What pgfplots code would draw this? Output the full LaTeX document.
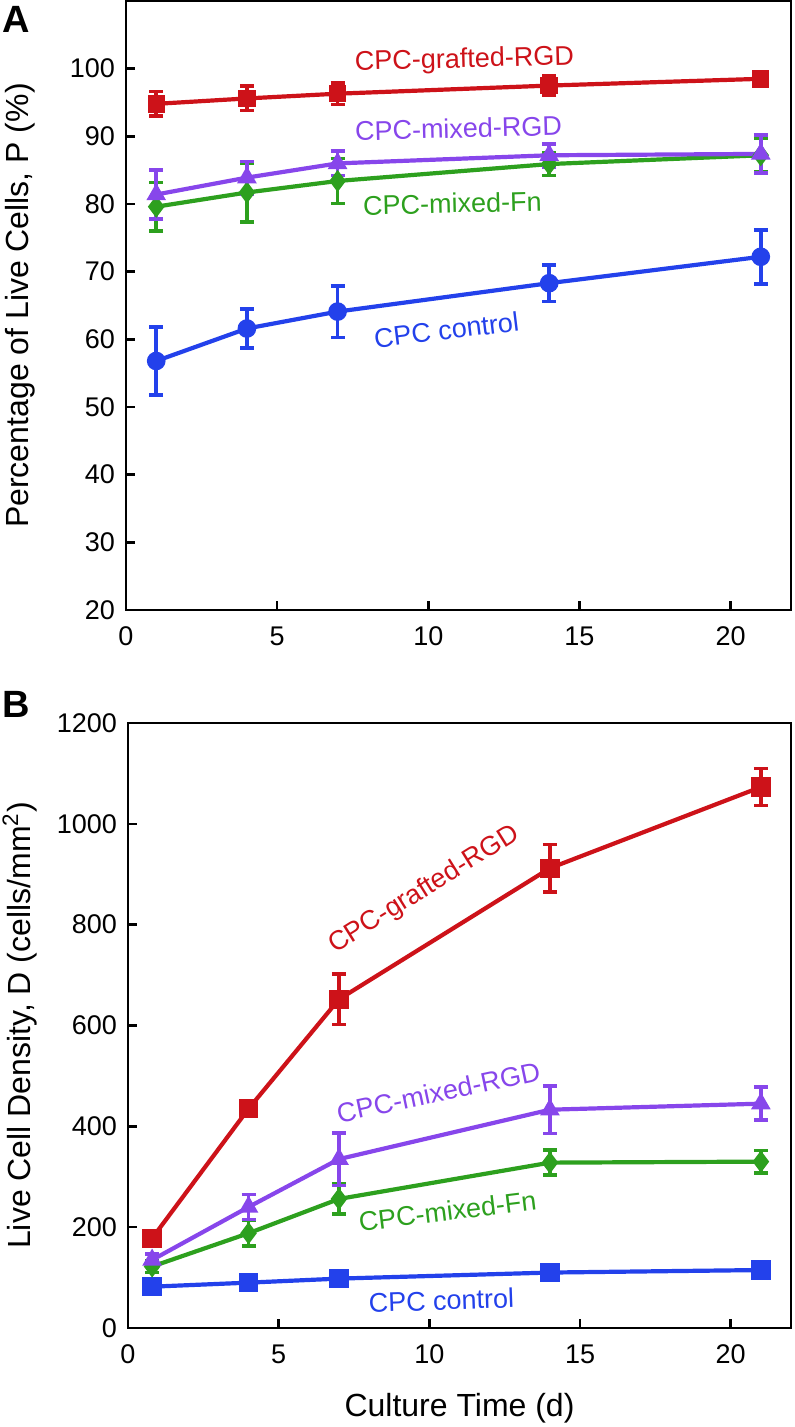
\documentclass[border=0pt]{standalone}
\usepackage{pgfplots}
\pgfplotsset{compat=1.18}
\usepackage{pgfplotstable}
\usepackage{fontspec}
\setmainfont{Liberation Sans}
\definecolor{cred}{RGB}{205,18,25}
\definecolor{cpur}{RGB}{135,70,235}
\definecolor{cgrn}{RGB}{45,160,30}
\definecolor{cblu}{RGB}{35,65,235}

\pgfplotstableread{
x y e
1 94.8 1.8
4 95.6 1.8
7 96.3 1.6
14 97.5 1.4
21 98.5 0.6
}\Ared
\pgfplotstableread{
x y e
1 81.4 3.6
4 83.9 2.4
7 86.0 1.8
14 87.2 1.7
21 87.4 2.8
}\Apur
\pgfplotstableread{
x y e
1 79.6 3.6
4 81.7 4.4
7 83.4 3.3
14 85.9 1.7
21 87.2 2.5
}\Agrn
\pgfplotstableread{
x y e
1 56.8 5.0
4 61.6 2.9
7 64.1 3.8
14 68.3 2.7
21 72.2 4.0
}\Ablu
\pgfplotstableread{
x y e
0.8 178 15
4 435 12
7 652 50
14 912 47
21 1073 37
}\Bred
\pgfplotstableread{
x y e
0.8 135 12
4 240 25
7 335 52
14 433 47
21 445 33
}\Bpur
\pgfplotstableread{
x y e
0.8 122 12
4 188 25
7 256 30
14 328 25
21 330 22
}\Bgrn
\pgfplotstableread{
x y e
0.8 82 15
4 90 15
7 98 10
14 110 8
21 115 8
}\Bblu

\pgfplotsset{
  myax/.style={
    scale only axis, anchor=north west,
    xmin=0, xmax=22, xtick={0,5,10,15,20},
    xtick pos=bottom, ytick pos=left, tick align=inside,
    axis line style={line width=1.3pt},
    major tick style={line width=1.3pt, black},
    major tick length=4.5pt,
    tick label style={font=\fontsize{13.5}{15}\selectfont},
    xticklabel style={yshift=-5pt},
    yticklabel style={xshift=-2pt},
    label style={font=\fontsize{16}{18}\selectfont},
    /pgf/number format/assume math mode=true,
    /pgf/number format/1000 sep={},
    clip=false,
    every axis plot/.append style={line width=2.1pt},
    error bars/y dir=both, error bars/y explicit,
    error bars/error bar style={line width=1.8pt},
    error bars/error mark options={rotate=90, mark size=3.5pt, line width=1.8pt},
  },
}
\tikzset{lab/.style={font=\fontsize{13.5}{15}\selectfont}}

\begin{document}
\begin{tikzpicture}
\path[use as bounding box] (0,0) rectangle (397pt,-713.5pt);
\node[font=\fontsize{19}{21}\selectfont\bfseries] at (8pt,-9.5pt) {A};
\node[font=\fontsize{19}{21}\selectfont\bfseries] at (8pt,-352pt) {B};

\begin{axis}[myax, at={(63pt,-0.5pt)}, width=332.5pt, height=304.5pt,
  ymin=20, ymax=110, ytick={20,30,...,100},
  ylabel={Percentage of Live Cells, P (\%)},
  ylabel style={at={(axis description cs:-0.159,0.5)}, anchor=center}]
\addplot[cblu, mark=*, mark size=3.6pt] table[x=x,y=y,y error=e]{\Ablu};
\addplot[cgrn, mark=diamond*, mark size=3.8pt] table[x=x,y=y,y error=e]{\Agrn};
\addplot[cpur, mark=triangle*, mark size=3.6pt] table[x=x,y=y,y error=e]{\Apur};
\addplot[cred, mark=square*, mark size=3.3pt] table[x=x,y=y,y error=e]{\Ared};
\node[lab, text=cred, rotate=1.5] at (axis cs:11.2,101.2) {CPC-grafted-RGD};
\node[lab, text=cpur, rotate=1.5] at (axis cs:11.0,91.2) {CPC-mixed-RGD};
\node[lab, text=cgrn, rotate=1.5] at (axis cs:10.8,80.1) {CPC-mixed-Fn};
\node[lab, text=cblu, rotate=7] at (axis cs:10.6,61.4) {CPC control};
\end{axis}

\begin{axis}[myax, at={(64pt,-361.5pt)}, width=331.5pt, height=302.5pt,
  ymin=0, ymax=1200, ytick={0,200,...,1200},
  ylabel={Live Cell Density, D (cells/mm\textsuperscript{2})},
  ylabel style={at={(axis description cs:-0.163,0.5)}, anchor=center},
  xlabel={Culture Time (d)},
  xlabel style={at={(axis description cs:0.5,-0.132)}, anchor=center}]
\addplot[cblu, mark=square*, mark size=3.8pt] table[x=x,y=y,y error=e]{\Bblu};
\addplot[cgrn, mark=diamond*, mark size=3.8pt] table[x=x,y=y,y error=e]{\Bgrn};
\addplot[cpur, mark=triangle*, mark size=3.6pt] table[x=x,y=y,y error=e]{\Bpur};
\addplot[cred, mark=square*, mark size=3.8pt] table[x=x,y=y,y error=e]{\Bred};
\node[lab, text=cred, rotate=32] at (axis cs:9.83,869) {CPC-grafted-RGD};
\node[lab, text=cpur, rotate=12] at (axis cs:10.3,468) {CPC-mixed-RGD};
\node[lab, text=cgrn, rotate=7] at (axis cs:10.6,232) {CPC-mixed-Fn};
\node[lab, text=cblu, rotate=2] at (axis cs:10.4,55) {CPC control};
\end{axis}
\end{tikzpicture}
\end{document}
